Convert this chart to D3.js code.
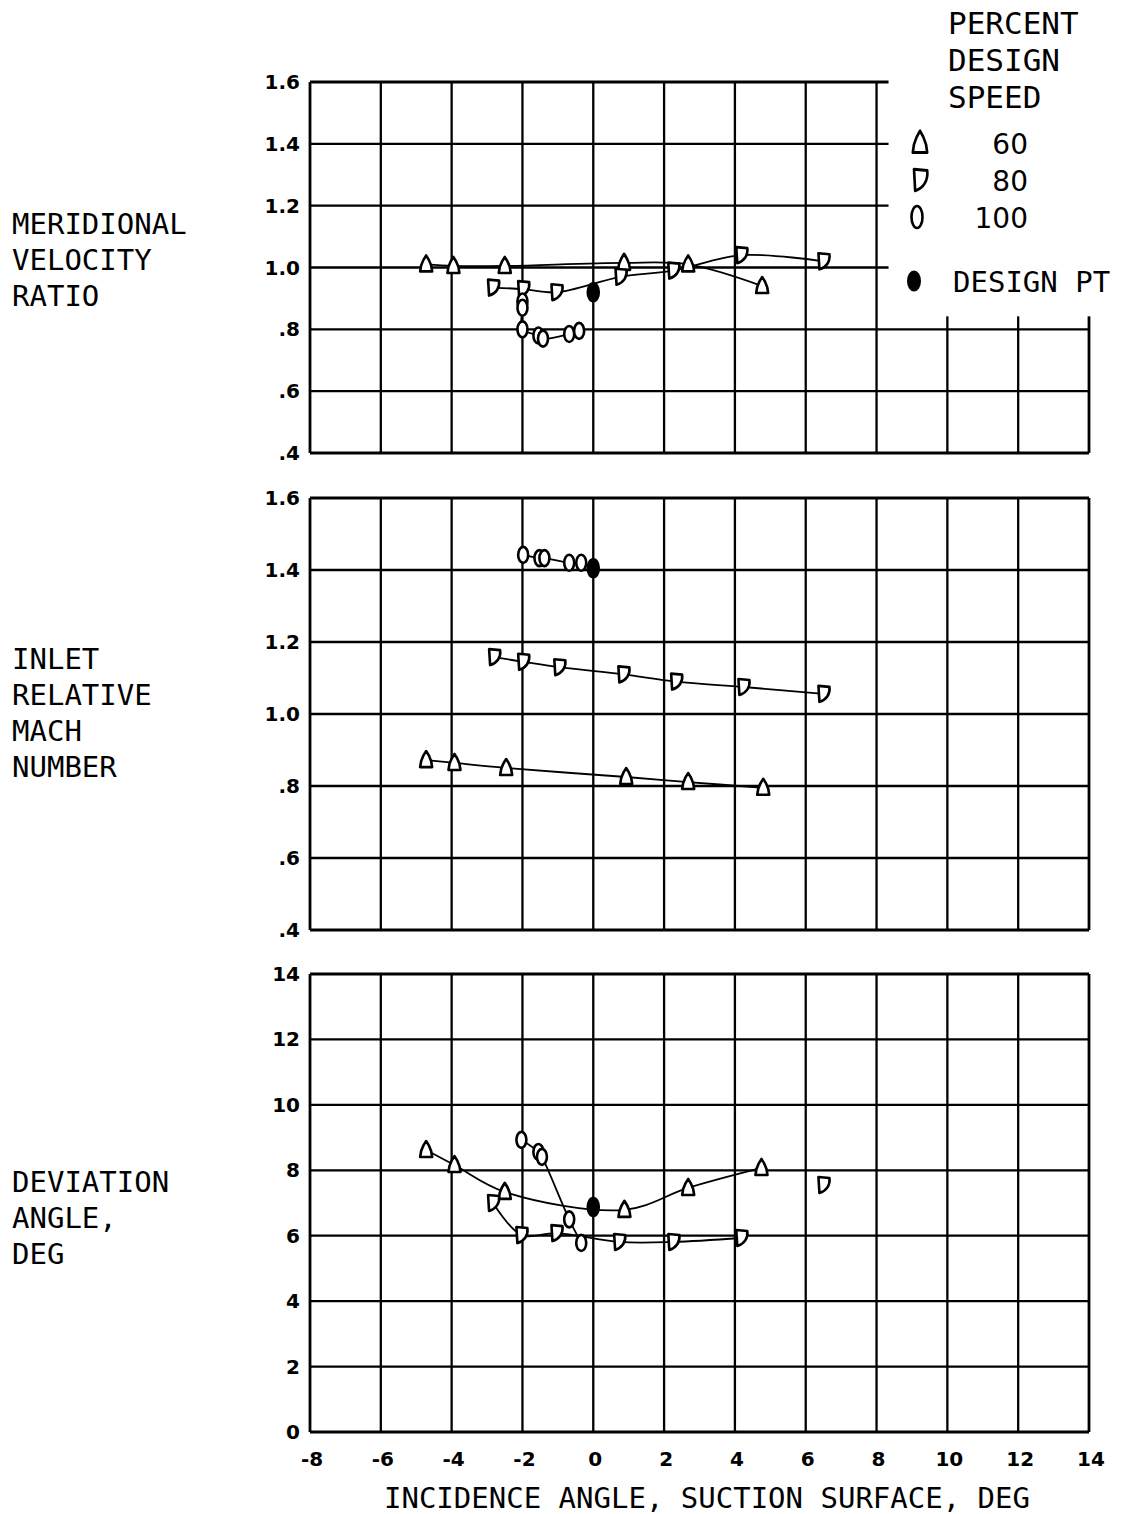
<!DOCTYPE html>
<html>
<head>
<meta charset="utf-8">
<script src="https://cdn.jsdelivr.net/npm/d3@7"></script>
<style>
  body { margin: 0; background: #fff; }
  text { font-family: "DejaVu Sans Mono", monospace; fill: #000; }
  .num { font-family: "DejaVu Sans", sans-serif; }
</style>
</head>
<body>
<svg id="chart" width="1121" height="1514"></svg>
<script>
// ---- data ----
var xTicks = [-8, -6, -4, -2, 0, 2, 4, 6, 8, 10, 12, 14]
var xTickLabels = ["-8", "-6", "-4", "-2", "0", "2", "4", "6", "8", "10", "12", "14"]
var ratioTicks = [0.4, 0.6, 0.8, 1.0, 1.2, 1.4, 1.6]
var ratioTickLabels = [".4", ".6", ".8", "1.0", "1.2", "1.4", "1.6"]
var devTicks = [0, 2, 4, 6, 8, 10, 12, 14]
var devTickLabels = ["0", "2", "4", "6", "8", "10", "12", "14"]

// meridional velocity ratio
var mvr60 = [[-4.72, 1.01], [-3.95, 1.005], [-2.5, 1.005], [0.87, 1.015], [2.68, 1.01], [4.77, 0.94]]
var mvr80 = [[-2.83, 0.935], [-1.98, 0.93], [-1.04, 0.92], [0.77, 0.97], [2.26, 0.99], [4.18, 1.04], [6.5, 1.02]]
var mvr100 = [[-2.0, 0.89], [-2.0, 0.87], [-2.0, 0.80], [-1.55, 0.78], [-1.42, 0.77], [-0.68, 0.785], [-0.4, 0.795]]
var mvrDesign = [[0, 0.92]]

// inlet relative mach number
var mach60 = [[-4.72, 0.872], [-3.92, 0.864], [-2.46, 0.85], [0.93, 0.825], [2.68, 0.811], [4.8, 0.795]]
var mach80 = [[-2.8, 1.158], [-1.98, 1.145], [-0.96, 1.13], [0.85, 1.11], [2.34, 1.09], [4.24, 1.075], [6.5, 1.056]]
var mach100 = [[-1.98, 1.442], [-1.52, 1.433], [-1.38, 1.433], [-0.68, 1.42], [-0.34, 1.42]]
var machDesign = [[0, 1.405]]

// deviation angle, deg
var dev60 = [[-4.72, 8.62], [-3.92, 8.16], [-2.5, 7.34], [0.88, 6.79], [2.68, 7.46], [4.75, 8.07]]
var dev80 = [[-2.83, 7.0], [-2.03, 6.02], [-1.04, 6.08], [0.73, 5.81], [2.26, 5.81], [4.18, 5.93]]
var dev80Loose = [[6.5, 7.55]]
var dev100 = [[-2.03, 8.93], [-1.55, 8.56], [-1.45, 8.41], [-0.68, 6.5], [-0.34, 5.78]]
var devDesign = [[0, 6.88]]

var legendSpeeds = ["60", "80", "100"]

// ---- layout ----
var svg = d3.select("#chart")
var xScale = d3.scaleLinear().domain([-8, 14]).range([310, 1089])

var panels = [
  { domain: [0.4, 1.6], range: [453, 82], ticks: ratioTicks, labels: ratioTickLabels,
    title: ["MERIDIONAL", "VELOCITY", "RATIO"], titleY: 234, cut: true,
    s60: mvr60, s80: mvr80, s100: mvr100, design: mvrDesign, loose: [] },
  { domain: [0.4, 1.6], range: [930, 498], ticks: ratioTicks, labels: ratioTickLabels,
    title: ["INLET", "RELATIVE", "MACH", "NUMBER"], titleY: 669, cut: false,
    s60: mach60, s80: mach80, s100: mach100, design: machDesign, loose: [] },
  { domain: [0, 14], range: [1432, 974], ticks: devTicks, labels: devTickLabels,
    title: ["DEVIATION", "ANGLE,", "DEG"], titleY: 1192, cut: false,
    s60: dev60, s80: dev80, s100: dev100, design: devDesign, loose: dev80Loose }
]

// marker shapes (plotter style)
var triPath = "M-6,7 L6,7 L5,1 Q3,-5 0,-9 Q-3,-5 -5,1 Z"
var deePath = "M-4,8 L-5,-8 L6,-7 C7,0 3,6 -4,8 Z"

function drawMarkers(g, data, kind, xs, ys) {
  var sel = g.selectAll(null).data(data).enter()
  if (kind == "tri" || kind == "dee") {
    sel.append("path")
      .attr("d", kind == "tri" ? triPath : deePath)
      .attr("transform", function(d) { return "translate(" + xs(d[0]) + "," + ys(d[1]) + ")" })
      .style("fill", "#fff").style("stroke", "#000")
      .style("stroke-width", 2.6).style("stroke-linejoin", "round")
  } else {
    sel.append("ellipse")
      .attr("cx", function(d) { return xs(d[0]) })
      .attr("cy", function(d) { return ys(d[1]) })
      .attr("rx", kind == "design" ? 5.5 : 5)
      .attr("ry", kind == "design" ? 9 : 8)
      .style("fill", kind == "design" ? "#000" : "#fff")
      .style("stroke", "#000").style("stroke-width", 2.6)
  }
}

panels.forEach(function(p) {
  var yScale = d3.scaleLinear().domain(p.domain).range(p.range)
  var g = svg.append("g")
  var yTop = p.domain[1], yBot = p.domain[0]
  var cutX = 8, cutY = 0.8

  // horizontal grid lines
  p.ticks.forEach(function(t) {
    var x2 = (p.cut && t > cutY) ? xScale(cutX) + 12 : xScale(14)
    g.append("line")
      .attr("x1", xScale(-8)).attr("x2", x2)
      .attr("y1", yScale(t)).attr("y2", yScale(t))
      .style("stroke", "#000").style("stroke-width", (t == yTop || t == yBot) ? 2.8 : 2.3)
  })
  // vertical grid lines
  xTicks.forEach(function(t) {
    var y1 = (p.cut && t > cutX) ? yScale(cutY) - 13 : yScale(yTop)
    g.append("line")
      .attr("x1", xScale(t)).attr("x2", xScale(t))
      .attr("y1", y1).attr("y2", yScale(yBot))
      .style("stroke", "#000").style("stroke-width", (t == -8 || t == 14) ? 2.8 : 2.3)
  })

  // tick labels on the left
  g.selectAll(null).data(p.ticks).enter().append("text")
    .attr("class", "num")
    .attr("x", 300).attr("y", function(d) { return yScale(d) + 7 })
    .attr("text-anchor", "end")
    .style("font-size", "20px").style("font-weight", "bold")
    .text(function(d, i) { return p.labels[i] })

  // panel title at left
  g.selectAll(null).data(p.title).enter().append("text")
    .attr("x", 12).attr("y", function(d, i) { return p.titleY + i * 36 })
    .style("font-size", "29px")
    .text(function(d) { return d })

  // lines
  var line = d3.line()
    .x(function(d) { return xScale(d[0]) })
    .y(function(d) { return yScale(d[1]) })
    .curve(d3.curveCatmullRom.alpha(0.5))
  ;[p.s60, p.s80, p.s100].forEach(function(s) {
    g.append("path").attr("d", line(s))
      .style("fill", "none").style("stroke", "#000").style("stroke-width", 1.8)
  })

  drawMarkers(g, p.s60, "tri", xScale, yScale)
  drawMarkers(g, p.s80, "dee", xScale, yScale)
  drawMarkers(g, p.loose, "dee", xScale, yScale)
  drawMarkers(g, p.s100, "circ", xScale, yScale)
  drawMarkers(g, p.design, "design", xScale, yScale)
})

// x tick labels and title
svg.selectAll(null).data(xTicks).enter().append("text")
  .attr("class", "num")
  .attr("x", function(d) { return xScale(d) + 2 })
  .attr("y", 1466)
  .attr("text-anchor", "middle")
  .style("font-size", "20px").style("font-weight", "bold")
  .text(function(d, i) { return xTickLabels[i] })

svg.append("text")
  .attr("x", 707).attr("y", 1508)
  .attr("text-anchor", "middle")
  .style("font-size", "29px")
  .text("INCIDENCE ANGLE, SUCTION SURFACE, DEG")

// legend
var legend = svg.append("g")
legend.selectAll(null).data(["PERCENT", "DESIGN", "SPEED"]).enter().append("text")
  .attr("x", 948).attr("y", function(d, i) { return 34 + i * 37 })
  .style("font-size", "31px")
  .text(function(d) { return d })

var legendKinds = ["tri", "dee", "circ"]
legendSpeeds.forEach(function(s, i) {
  var yy = 143 + i * 37
  if (legendKinds[i] == "circ") {
    legend.append("ellipse").attr("cx", 917).attr("cy", yy)
      .attr("rx", 5.5).attr("ry", 11)
      .style("fill", "none").style("stroke", "#000").style("stroke-width", 2.6)
  } else {
    legend.append("path")
      .attr("d", legendKinds[i] == "tri" ? triPath : deePath)
      .attr("transform", "translate(920," + yy + ") scale(1.2,1.35)")
      .style("fill", "none").style("stroke", "#000").style("stroke-width", 2.2)
      .style("stroke-linejoin", "round")
  }
  legend.append("text")
    .attr("class", "num")
    .attr("x", 1028).attr("y", yy + 11)
    .attr("text-anchor", "end")
    .style("font-size", "28px")
    .text(s)
})
legend.append("ellipse").attr("cx", 914).attr("cy", 281)
  .attr("rx", 7).attr("ry", 10.5).style("fill", "#000")
legend.append("text")
  .attr("x", 953).attr("y", 292)
  .style("font-size", "29px")
  .text("DESIGN PT")
</script>
</body>
</html>
